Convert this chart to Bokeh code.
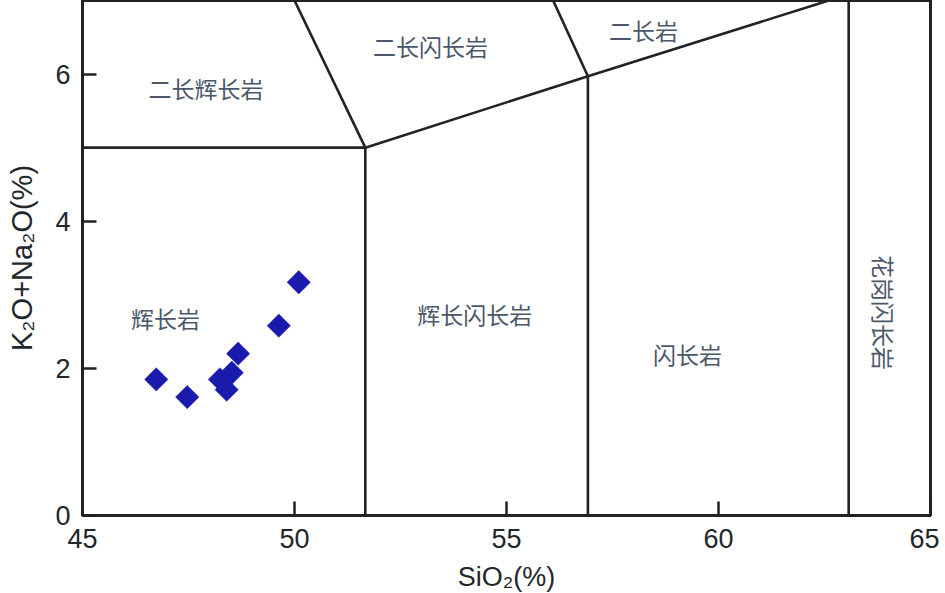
import numpy as np
from bokeh.plotting import figure
from bokeh.models import Range1d, FixedTicker, ColumnDataSource
from bokeh.core.properties import value
from bokeh.embed import file_html
from bokeh.resources import INLINE

# --- data ---
sio2 = [46.74, 47.47, 48.24, 48.52, 48.40, 48.67, 49.63, 50.10]
alk = [1.85, 1.61, 1.85, 1.94, 1.71, 2.20, 2.58, 3.17]

x_ticks = [45, 50, 55, 60, 65]
y_ticks = [0, 2, 4, 6]

# field boundaries
bound_xs = [
    [45, 51.67],
    [51.67, 51.67],
    [51.67, 50.0],
    [51.67, 56.92, 62.6],
    [56.92, 56.92],
    [56.92, 56.1],
    [63.07, 63.07],
]
bound_ys = [
    [5.0, 5.0],
    [0, 5.0],
    [5.0, 7.0],
    [5.0, 5.97, 7.0],
    [0, 5.97],
    [5.97, 7.0],
    [0, 7.0],
]

field_names = ["二长辉长岩", "二长闪长岩", "二长岩", "辉长岩", "辉长闪长岩", "闪长岩"]
field_x = [47.91, 53.21, 58.23, 46.96, 54.25, 59.27]
field_y = [5.81, 6.38, 6.60, 2.69, 2.74, 2.20]

vert_name = ["花岗闪长岩"]
vert_x = [63.91]
vert_y = [2.76]

AX = "#1f2326"
TXT = "#4a5869"
NUM_FONT = "'Liberation Sans Narrow', 'Liberation Sans', Arial, sans-serif"

p = figure(width=939, height=594, output_backend="svg", toolbar_location=None,
           x_range=Range1d(45, 65), y_range=Range1d(0, 7),
           min_border_left=82, min_border_right=9, min_border_top=0,
           min_border_bottom=60)

p.grid.visible = False
p.outline_line_color = AX
p.outline_line_width = 3
p.background_fill_color = "white"
p.border_fill_color = "white"

for ax in (p.xaxis[0], p.yaxis[0]):
    ax.axis_line_color = AX
    ax.axis_line_width = 3
    ax.major_tick_line_color = AX
    ax.major_tick_line_width = 2.5
    ax.major_tick_in = 14
    ax.major_tick_out = 0
    ax.minor_tick_line_color = None
    ax.major_label_text_font = NUM_FONT
    ax.major_label_text_font_size = "27px"
    ax.major_label_text_color = "#22272b"
    ax.axis_label_text_font = NUM_FONT
    ax.axis_label_text_font_style = "normal"
    ax.axis_label_text_color = "#22272b"

p.xaxis.axis_label_text_font_size = "27px"
p.yaxis.axis_label_text_font_size = "29px"
p.xaxis.ticker = FixedTicker(ticks=x_ticks)
p.yaxis.ticker = FixedTicker(ticks=y_ticks)
p.xaxis.axis_label = "SiO₂(%)"
p.yaxis.axis_label = "K₂O+Na₂O(%)"
p.xaxis.major_label_standoff = 13
p.yaxis.major_label_standoff = 12
p.xaxis.axis_label_standoff = 11
p.yaxis.axis_label_standoff = 14

p.multi_line(xs=bound_xs, ys=bound_ys, line_color=AX, line_width=2.6)

src = ColumnDataSource(dict(x=field_x, y=field_y, t=field_names))
p.text(x="x", y="y", text="t", source=src, text_align="center", text_baseline="middle",
       text_font=value("Noto Sans CJK SC"), text_font_size="23px", text_color=TXT)

vsrc = ColumnDataSource(dict(x=vert_x, y=vert_y, t=vert_name))
p.text(x="x", y="y", text="t", source=vsrc, angle=-np.pi / 2, text_align="center",
       text_baseline="middle", text_font=value("Noto Sans CJK SC"),
       text_font_size="23px", text_color=TXT)

p.scatter(sio2, alk, marker="square", size=16.5, angle=np.pi / 4,
          fill_color="#1a1aad", line_color="#1a1aad", line_width=0.5)

open("out.html", "w").write(file_html(p, INLINE))
